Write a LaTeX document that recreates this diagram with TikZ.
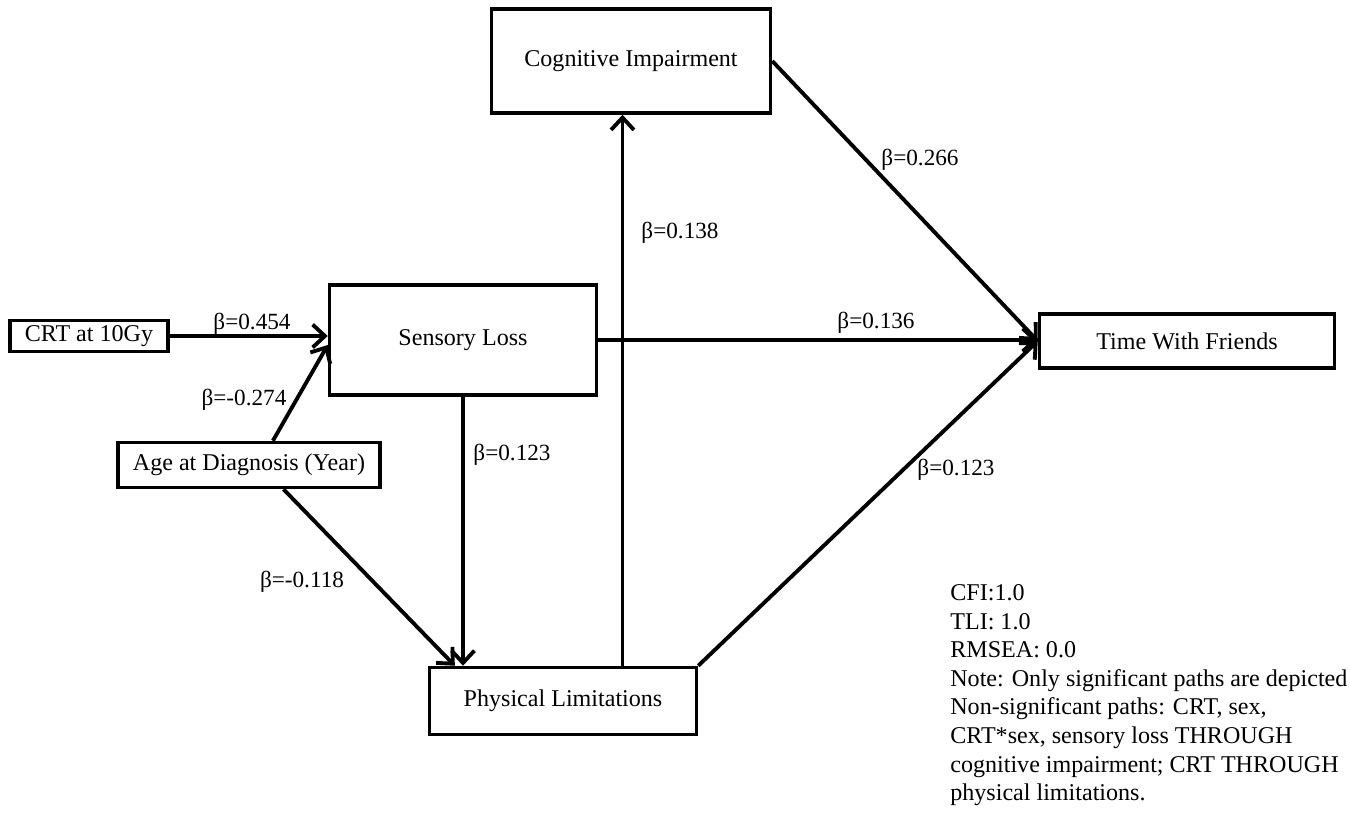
\documentclass[tikz,border=0pt]{standalone}
\usepackage{fontspec}
\setmainfont{Liberation Serif}
\usetikzlibrary{arrows.meta,positioning,calc}
\tikzset{
  varbox/.style={
    rectangle,
    draw=black,
    line width=2pt,
    inner sep=2pt,
    align=center,
    font=\fontsize{13.7}{16}\selectfont
  },
  coef/.style={
    inner sep=1pt,
    font=\fontsize{13.2}{15}\selectfont
  },
  flow/.style={-{Straight Barb[length=7pt,width=13pt]}, line width=2.2pt, black}
}

\begin{document}
\begin{tikzpicture}[x=0.02cm,y=-0.02cm]
\useasboundingbox (0,0) rectangle (1350,816);
\node[varbox, minimum width=5.58cm, minimum height=2.08cm] (cog) at (631,61) {Cognitive Impairment};
\node[varbox, minimum width=5.34cm, minimum height=2.2cm] (sens) at (463,340) {Sensory Loss};
\node[varbox, minimum width=3.16cm, minimum height=0.62cm] (crt) at (89,336) {CRT at 10Gy};
\node[varbox, minimum width=5.24cm, minimum height=0.9cm] (age) at (249,465) {Age at Diagnosis (Year)};
\node[varbox, minimum width=5.34cm, minimum height=1.34cm] (phys) at (563,701) {Physical Limitations};
\node[varbox, minimum width=5.9cm, minimum height=1.08cm] (time) at (1187,341) {Time With Friends};
\coordinate (agetop) at ($(age.north west)!0.59!(age.north east)$);
\coordinate (agebot) at ($(age.south west)!0.63!(age.south east)$);
\coordinate (physin) at ($(phys.north west)!0.1!(phys.north east)$);
\coordinate (physup) at ($(phys.north west)!0.72!(phys.north east)$);
\draw[flow] (crt.east) -- (crt.east -| sens.west);
\draw[flow] (agetop) -- ([yshift=-0.1cm]sens.west);
\draw[flow] (sens.south) -- (sens.south |- phys.north);
\draw[flow] (agebot) -- (physin);
\draw[flow] (physup) -- (physup |- cog.south);
\draw[flow] (sens.east) -- (sens.east -| time.west);
\draw[flow] (cog.east) -- (time.west);
\draw[flow] (phys.north east) -- (time.west);
\node[coef] (b454) at (252,324) {β=0.454};
\node[coef] (b274) at (244,400) {β=-0.274};
\node[coef] (b138) at (680,233) {β=0.138};
\node[coef] (b266) at (920,160) {β=0.266};
\node[coef] (b136) at (876,323) {β=0.136};
\node[coef] (b123a) at (512,455) {β=0.123};
\node[coef] (b123b) at (956,470) {β=0.123};
\node[coef] (b118) at (302,582) {β=-0.118};
\node[anchor=north west, align=left, inner sep=0pt, font=\fontsize{13.7}{16.3}\selectfont] (fitnote) at (950,584)
  {CFI:1.0\\TLI: 1.0\\RMSEA: 0.0\\Note: Only significant paths are depicted\\Non-significant paths: CRT, sex,\\CRT*sex, sensory loss THROUGH\\cognitive impairment; CRT THROUGH\\physical limitations.};
\end{tikzpicture}
\end{document}
